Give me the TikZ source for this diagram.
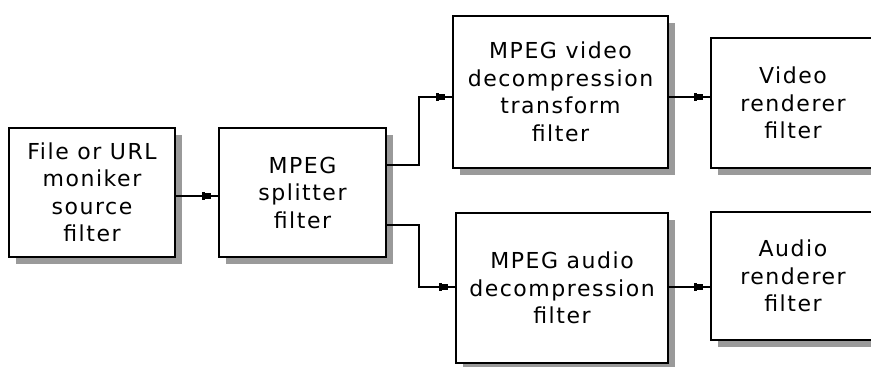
\documentclass[tikz,border=0pt]{standalone}
\usepackage{fontspec}
\setmainfont{DejaVu Sans}[LetterSpace=7]
\usetikzlibrary{calc,shadows}
\definecolor{shade}{HTML}{9A9A9A}
\begin{document}
\begin{tikzpicture}[x=1pt,y=-1pt,
  box/.style={draw=black, line width=1.8pt, fill=white, align=center, inner sep=0pt,
    font=\fontsize{22}{27.5}\selectfont,
    drop shadow={shadow xshift=7pt, shadow yshift=-7pt, fill=shade, opacity=1}},
  link/.style={line width=1.4pt},
  plug/.pic={\fill (-16.5,-4) rectangle (-13,4); \fill (-13.5,-3) rectangle (-7,3);}
]
\useasboundingbox (0,0) rectangle (871,367);
\clip (0,0) rectangle (871,367);
\node[box, minimum width=166pt, minimum height=129pt] (b1) at (92,192.5) {File or URL\\moniker\\source\\filter};
\node[box, minimum width=167pt, minimum height=129pt] (b2) at (302.5,192.5) {MPEG\\splitter\\filter};
\node[box, minimum width=215pt, minimum height=152pt] (b3) at (560.5,92) {MPEG video\\decompression\\transform\\filter};
\node[box, minimum width=164pt, minimum height=130pt] (b4) at (793,103) {Video\\renderer\\filter};
\node[box, minimum width=212pt, minimum height=150pt] (b5) at (562,288) {MPEG audio\\decompression\\filter};
\node[box, minimum width=164pt, minimum height=128pt] (b6) at (793,276) {Audio\\renderer\\filter};
\coordinate (l1) at (0,196);
\coordinate (lu) at (0,165);
\coordinate (ld) at (0,225);
\coordinate (l3) at (0,97);
\coordinate (l5) at (0,287);
\coordinate (kx) at (419,0);
\draw[link] (b1.east|-l1) -- (b2.west|-l1) pic{plug};
\draw[link] (b2.east|-lu) -| (kx|-l3) -- (b3.west|-l3) pic{plug};
\draw[link] (b2.east|-ld) -| (kx|-l5) -- (b5.west|-l5) pic{plug};
\draw[link] (b3.east|-l3) -- (b4.west|-l3) pic{plug};
\draw[link] (b5.east|-l5) -- (b6.west|-l5) pic{plug};
\end{tikzpicture}
\end{document}
